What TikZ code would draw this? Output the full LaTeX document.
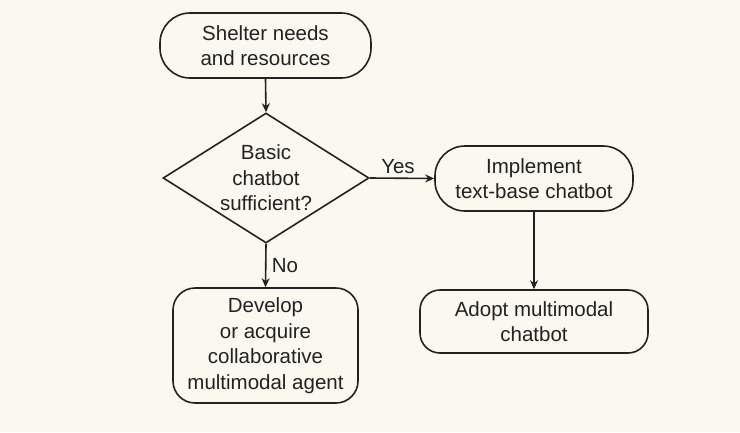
\documentclass[tikz,border=0pt]{standalone}
\usepackage{fontspec}
\setmainfont{Liberation Sans}
\usetikzlibrary{shapes.geometric,arrows.meta}
\definecolor{bg}{HTML}{FBF8F0}
\definecolor{ink}{HTML}{222222}
\begin{document}
\begin{tikzpicture}[x=1pt,y=-1pt,
  every node/.style={font=\fontsize{20.5}{25.5}\selectfont, text=ink, align=center},
  box/.style={draw=ink, line width=1.6pt, inner sep=0pt},
  link/.style={draw=ink, line width=1.6pt, -{Stealth[length=9pt,width=8pt]}}]
\fill[bg] (0,0) rectangle (740,432);
\useasboundingbox (0,0) rectangle (740,432);
\node[box, rounded corners=30pt, minimum width=211pt, minimum height=65pt] (start) at (265.5,45.5) {Shelter needs\\and resources};
\node[box, diamond, aspect=1.58, minimum width=206pt, minimum height=130pt] (dec) at (266,178) {Basic\\chatbot\\sufficient?};
\node[box, rounded corners=30pt, minimum width=198pt, minimum height=65pt] (impl) at (534,178.5) {Implement\\text-base chatbot};
\node[box, rounded corners=20pt, minimum width=228pt, minimum height=63pt] (adopt) at (534,321.5) {Adopt multimodal\\chatbot};
\node[box, rounded corners=22pt, minimum width=185pt, minimum height=115pt] (dev) at (265.5,345.5) {Develop\\or acquire\\collaborative\\multimodal agent};
\draw[link] (start.south) -- (dec.north);
\draw[link] (dec.east) -- node[above, yshift=0pt, xshift=-4pt] (yes) {Yes} (impl.west);
\draw[link] (dec.south) -- node[right, xshift=2pt] (no) {No} (dev.north);
\draw[link] (impl.south) -- (adopt.north);
\end{tikzpicture}
\end{document}
